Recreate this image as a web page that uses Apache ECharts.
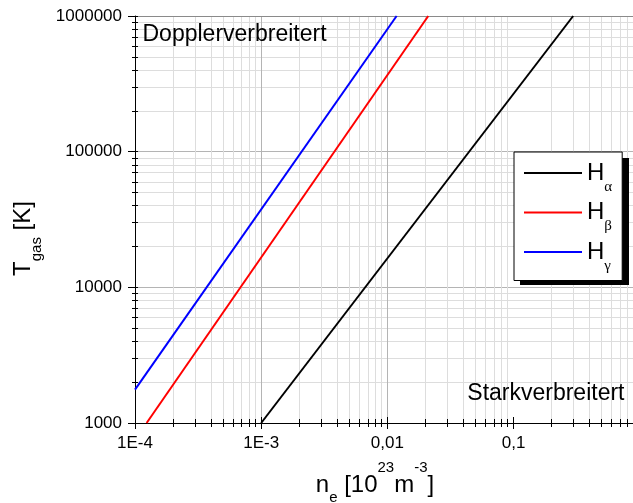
<!DOCTYPE html>
<html>
<head>
<meta charset="utf-8">
<script src="https://cdn.jsdelivr.net/npm/echarts@6/dist/echarts.min.js"></script>
<style>
  html, body { margin: 0; padding: 0; background: #fff; }
  #chart { width: 633px; height: 503px; }
</style>
</head>
<body>
<div id="chart"></div>
<script>
// Crossover between Doppler and Stark broadening: electron density n_e vs. gas temperature
const seriesNames = ['Hα', 'Hβ', 'Hγ'];
const seriesColors = ['#000000', '#ff0000', '#0000ff'];

// Each crossover curve is a straight line on log-log axes: [n_e, T_gas] end points
const hAlphaNe = [0.001, 0.297];
const hAlphaT = [1000, 1000000];
const hBetaNe = [0.0001236, 0.0211];
const hBetaT = [1000, 1000000];
const hGammaNe = [0.0001, 0.01184];
const hGammaT = [1760, 1000000];

// Axis ranges and tick labels
const xRange = [0.0001, 0.885];
const yRange = [1000, 1000000];
const xMajorTicks = [0.0001, 0.001, 0.01, 0.1];
const xTickLabels = ['1E-4', '1E-3', '0,01', '0,1'];
const yMajorTicks = [1000, 10000, 100000, 1000000];
const yTickLabels = ['1000', '10000', '100000', '1000000'];

const FONT = "'Liberation Sans', Arial, sans-serif";

// Minor log ticks at 2..9 within each decade
function minorTicks(lo, hi) {
  const out = [];
  for (let d = Math.floor(Math.log10(lo)); d <= Math.ceil(Math.log10(hi)); d++) {
    for (let k = 2; k <= 9; k++) {
      const v = k * Math.pow(10, d);
      if (v > lo && v < hi) out.push(v);
    }
  }
  return out;
}
const xMinorTicks = minorTicks(xRange[0], xRange[1]);
const yMinorTicks = minorTicks(yRange[0], yRange[1]);

function labelFor(ticks, labels) {
  return function (v) {
    for (let i = 0; i < ticks.length; i++) {
      if (Math.abs(Math.log10(v) - Math.log10(ticks[i])) < 1e-6) return labels[i];
    }
    return '';
  };
}

function logAxis(range, extra) {
  return Object.assign({
    type: 'log',
    logBase: 10,
    min: range[0],
    max: range[1],
    axisLine: { show: false },
    axisTick: { show: false },
    axisLabel: { show: false },
    splitLine: { show: false },
    minorTick: { show: false },
    minorSplitLine: { show: false }
  }, extra);
}

const xAxes = [
  // labelled axis with decade ticks (outside) and decade grid lines
  logAxis(xRange, {
    position: 'bottom',
    axisLine: { show: true, lineStyle: { color: '#000', width: 1 } },
    axisTick: { show: true, inside: false, length: 6, customValues: xMajorTicks, lineStyle: { color: '#000' } },
    axisLabel: {
      show: true, margin: 12, customValues: xMajorTicks,
      formatter: labelFor(xMajorTicks, xTickLabels),
      color: '#000', fontSize: 17, fontFamily: FONT
    },
    splitLine: { show: true, showMinLine: false, showMaxLine: false, lineStyle: { color: '#b4b4b4', width: 1 } }
  }),
  // minor ticks (outside) and minor grid lines
  logAxis(xRange, {
    position: 'bottom',
    axisTick: { show: true, inside: false, length: 4, customValues: xMinorTicks, lineStyle: { color: '#000' } },
    splitLine: { show: true, lineStyle: { color: '#dddddd', width: 1 } }
  }),
  // inner halves of the ticks
  logAxis(xRange, {
    position: 'bottom',
    axisTick: { show: true, inside: true, length: 6, customValues: xMajorTicks, lineStyle: { color: '#000' } }
  }),
  logAxis(xRange, {
    position: 'bottom',
    axisTick: { show: true, inside: true, length: 4, customValues: xMinorTicks, lineStyle: { color: '#000' } }
  }),
  // frame line along the top
  logAxis(xRange, {
    position: 'top',
    axisLine: { show: true, lineStyle: { color: '#8a8a8a', width: 1 } }
  })
];

const yAxes = [
  logAxis(yRange, {
    position: 'left',
    axisLine: { show: true, lineStyle: { color: '#000', width: 1 } },
    axisTick: { show: true, inside: false, length: 7, customValues: yMajorTicks, lineStyle: { color: '#000' } },
    axisLabel: {
      show: true, margin: 13, customValues: yMajorTicks,
      formatter: labelFor(yMajorTicks, yTickLabels),
      color: '#000', fontSize: 17, fontFamily: FONT
    },
    splitLine: { show: true, showMinLine: false, showMaxLine: false, lineStyle: { color: '#b4b4b4', width: 1 } }
  }),
  logAxis(yRange, {
    position: 'left',
    axisTick: { show: true, inside: false, length: 3, customValues: yMinorTicks, lineStyle: { color: '#000' } },
    splitLine: { show: true, lineStyle: { color: '#dddddd', width: 1 } }
  }),
  logAxis(yRange, {
    position: 'left',
    axisTick: { show: true, inside: true, length: 3, customValues: yMajorTicks, lineStyle: { color: '#000' } }
  }),
  logAxis(yRange, {
    position: 'left',
    axisTick: { show: true, inside: true, length: 3, customValues: yMinorTicks, lineStyle: { color: '#000' } }
  })
];

function pairs(xs, ys) { return xs.map((x, i) => [x, ys[i]]); }
const curves = [pairs(hAlphaNe, hAlphaT), pairs(hBetaNe, hBetaT), pairs(hGammaNe, hGammaT)];

// legend box geometry
const legendBox = { left: 514, top: 152, width: 109, height: 127, shadow: 6 };

const chart = echarts.init(document.getElementById('chart'), null, { renderer: 'canvas' });
chart.setOption({
  animation: false,
  backgroundColor: '#ffffff',
  textStyle: { fontFamily: FONT },
  grid: { left: 135, right: 0, top: 16, bottom: 80, containLabel: false },
  xAxis: xAxes,
  yAxis: yAxes,
  legend: {
    orient: 'vertical',
    left: legendBox.left,
    top: legendBox.top,
    z: 6,
    selectedMode: false,
    icon: 'rect',
    itemWidth: 58,
    itemHeight: 2,
    itemGap: 6,
    padding: [9, 10, 7, 10],
    backgroundColor: '#ffffff',
    borderColor: '#000000',
    borderWidth: 1,
    data: seriesNames,
    formatter: function (name) { return '{h|H}{s|' + name.slice(1) + '}'; },
    textStyle: {
      color: '#000',
      rich: {
        h: { fontSize: 24, fontFamily: FONT, lineHeight: 30, color: '#000' },
        s: { fontSize: 15, fontFamily: "'Liberation Serif', 'DejaVu Serif', serif", height: 2, verticalAlign: 'bottom', color: '#000' }
      }
    }
  },
  series: curves.map((pts, i) => ({
    name: seriesNames[i],
    type: 'line',
    xAxisIndex: 0,
    yAxisIndex: 0,
    data: pts,
    showSymbol: false,
    symbol: 'none',
    lineStyle: { color: seriesColors[i], width: 2 },
    itemStyle: { color: seriesColors[i] },
    z: 3
  })),
  graphic: [
    {
      // drop shadow behind the legend box
      type: 'rect', z: 5, silent: true,
      shape: { x: legendBox.left + legendBox.shadow, y: legendBox.top + legendBox.shadow, width: legendBox.width, height: legendBox.height },
      style: { fill: '#000' }
    },
    {
      type: 'text', x: 142.5, y: 35, z: 10,
      style: { text: 'Dopplerverbreitert', fontSize: 23, fontFamily: FONT, fill: '#000', align: 'left', verticalAlign: 'middle' }
    },
    {
      type: 'text', x: 624.5, y: 394, z: 10,
      style: { text: 'Starkverbreitert', fontSize: 23, fontFamily: FONT, fill: '#000', align: 'right', verticalAlign: 'middle' }
    },
    {
      // y axis title, rotated to read bottom-up
      type: 'text', x: 23.5, y: 238.5, rotation: Math.PI / 2, z: 10,
      style: {
        text: '{m|T}{s|gas}{m| [K]}',
        align: 'center', verticalAlign: 'middle', fill: '#000',
        rich: {
          m: { fontSize: 24, fontFamily: FONT, lineHeight: 29, fill: '#000' },
          s: { fontSize: 15, fontFamily: FONT, height: 2, verticalAlign: 'bottom', fill: '#000' }
        }
      }
    },
    {
      // x axis title
      type: 'text', x: 375, y: 485, z: 10,
      style: {
        text: '{m|n}{s|e}{m| [10}{p|23}{m|m}{p|-3}{m|]}',
        align: 'center', verticalAlign: 'middle', fill: '#000',
        rich: {
          m: { fontSize: 24, fontFamily: FONT, lineHeight: 36, fill: '#000' },
          s: { fontSize: 15, fontFamily: FONT, height: 2, padding: [0, 0, 4, 0], verticalAlign: 'bottom', fill: '#000' },
          p: { fontSize: 15, fontFamily: FONT, height: 2, verticalAlign: 'top', fill: '#000' }
        }
      }
    }
  ]
});
</script>
</body>
</html>
